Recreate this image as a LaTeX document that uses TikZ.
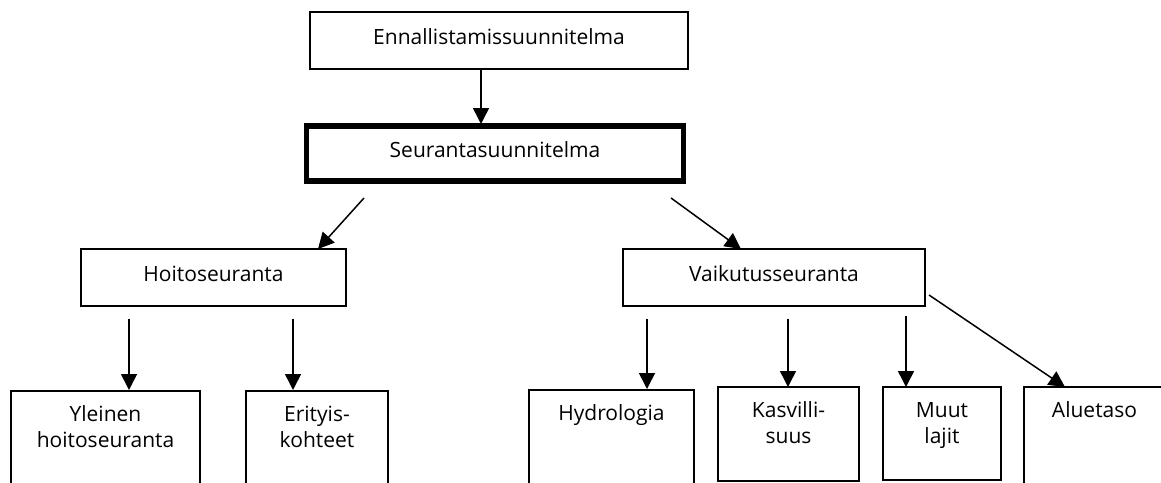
\documentclass[tikz,border=0pt]{standalone}
\usepackage{fontspec}
\setmainfont{Open Sans}
\usetikzlibrary{arrows.meta, positioning}
\newcommand{\rows}[1]{\begin{tabular}[t]{@{}c@{}}#1\end{tabular}}

\begin{document}
\begin{tikzpicture}[x=1pt, y=-1pt,
	box/.style={draw, line width=1.6pt, inner sep=0pt, outer sep=0pt, font=\fontsize{21}{26.5}\selectfont, text=black, text height=15pt, text depth=8pt},
	leaf/.style={box, anchor=north west, text height=30pt},
	arr/.style={-{Triangle[length=16pt, width=16pt]}, line width=1.5pt}]
	\useasboundingbox (0,0) rectangle (1161,482);
	\clip (0,0) rectangle (1161,482);
	% plans
	\node[box, minimum width=378pt, minimum height=57pt] (enn) at (499,40.5) {Ennallistamissuunnitelma};
	\node[box, line width=5.5pt, minimum width=377pt, minimum height=55pt] (seur) at (495,153.5) {Seurantasuunnitelma};
	% two kinds of monitoring
	\node[box, minimum width=265pt, minimum height=57pt] (hoito) at (213.5,277.5) {Hoitoseuranta};
	\node[box, minimum width=302pt, minimum height=57pt] (vaik) at (774,277.5) {Vaikutusseuranta};
	% leaves
	\node[leaf, minimum width=189pt, text depth=150pt] (yleinen) at (11,391) {\rows{Yleinen\\hoitoseuranta}};
	\node[leaf, minimum width=142pt, text depth=150pt] (erityis) at (246,391) {\rows{Erityis-\\kohteet}};
	\node[leaf, minimum width=165pt, text depth=150pt] (hydro) at (529,390) {\rows{Hydrologia}};
	\node[leaf, minimum width=141pt, text depth=64pt] (kasv) at (718,387) {\rows{Kasvilli-\\suus}};
	\node[leaf, minimum width=118pt, text depth=63pt] (muut) at (883,387) {\rows{Muut\\lajit}};
	\node[leaf, minimum width=141pt, text depth=150pt] (alue) at (1024,387) {\rows{Aluetaso}};
	% arrows
	\coordinate (a1) at (481,69);
	\coordinate (a2) at (364,198);
	\coordinate (a3) at (671,198);
	\coordinate (a4) at (129,319);
	\coordinate (a5) at (293,319);
	\coordinate (a6) at (647,319);
	\coordinate (a7) at (788,319);
	\coordinate (a8) at (906,316);
	\coordinate (a9) at (929,295);
	\draw[arr, shorten >=2pt] (a1) -- (a1 |- seur.north);
	\draw[arr] (a2) -- ([xshift=-28pt]hoito.north east);
	\draw[arr] (a3) -- ([xshift=118pt]vaik.north west);
	\draw[arr, shorten >=1pt] (a4) -- (a4 |- yleinen.north);
	\draw[arr, shorten >=1pt] (a5) -- (a5 |- erityis.north);
	\draw[arr, shorten >=1pt] (a6) -- (a6 |- hydro.north);
	\draw[arr] (a7) -- (a7 |- kasv.north);
	\draw[arr] (a8) -- (a8 |- muut.north);
	\draw[arr] (a9) -- ([xshift=41pt]alue.north west);
\end{tikzpicture}
\end{document}
